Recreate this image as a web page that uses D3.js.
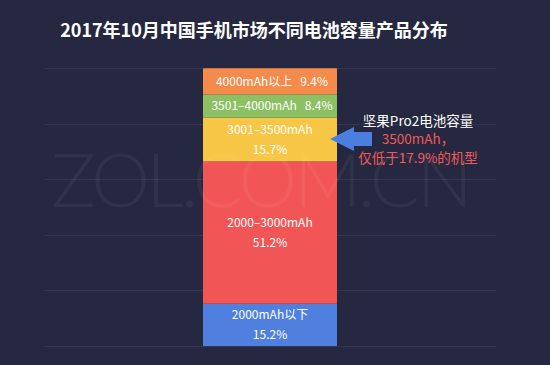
<!DOCTYPE html>
<html>
<head>
<meta charset="utf-8">
<script src="https://cdn.jsdelivr.net/npm/d3@7"></script>
<style>
  html, body { margin: 0; padding: 0; background: #252840; }
  svg { display: block; font-family: "Noto Sans CJK SC", "Noto Sans", sans-serif; }
</style>
</head>
<body>
<svg id="chart" width="550" height="365"></svg>
<script>
// data, bottom to top
const categories = ["2000mAh以下", "2000–3000mAh", "3001–3500mAh", "3501–4000mAh", "4000mAh以上"];
const shares     = [15.2, 51.2, 15.7, 8.4, 9.4];
const colors     = ["#4f80e0", "#f25555", "#f8c645", "#8dc063", "#f58b4b"];
const noteLines  = ["坚果Pro2电池容量", "3500mAh，", "仅低于17.9%的机型"];
const title      = "2017年10月中国手机市场不同电池容量产品分布";

const W = 550, H = 365;
const svg = d3.select("#chart");

svg.append("rect").attr("width", W).attr("height", H).attr("fill", "#252840");

const x = d3.scaleBand().domain(["2017-10"]).range([203, 337]).padding(0);
const y = d3.scaleLinear().domain([0, 100]).range([346, 68]);

// ── grid ──
svg.append("g").selectAll("line").data(y.ticks(5)).enter().append("line")
  .attr("x1", 44).attr("x2", 496)
  .attr("y1", d => Math.round(y(d)) + 0.5).attr("y2", d => Math.round(y(d)) + 0.5)
  .attr("stroke", "#33364f").attr("stroke-width", 1);

// ── stacked bar ──
let acc = 0;
const segs = shares.map((v, i) => {
  const s = { name: categories[i], value: v, y0: acc, y1: acc + v, color: colors[i] };
  acc += v;
  return s;
});

const bar = svg.append("g");
bar.selectAll("rect").data(segs).enter().append("rect")
  .attr("x", x("2017-10")).attr("width", x.bandwidth())
  .attr("y", d => y(d.y1)).attr("height", d => y(d.y0) - y(d.y1))
  .attr("fill", d => d.color);

const labels = svg.append("g").attr("fill", "#fff").attr("font-size", 12)
  .attr("text-anchor", "middle");
const cx = x("2017-10") + x.bandwidth() / 2;
segs.forEach(d => {
  const mid = (y(d.y0) + y(d.y1)) / 2;
  const h = y(d.y0) - y(d.y1);
  if (h < 32) {
    labels.append("text").attr("x", cx + 2).attr("y", mid).attr("dy", "0.35em")
      .style("white-space", "pre")
      .text(`${d.name}   ${d.value}%`);
  } else {
    labels.append("text").attr("x", cx).attr("y", mid - 10).attr("dy", "0.35em").text(d.name);
    labels.append("text").attr("x", cx).attr("y", mid + 10).attr("dy", "0.35em").text(d.value + "%");
  }
});

// ── arrow + note ──
const ay = 139;
svg.append("path")
  .attr("d", d3.line()([[330, ay], [354, ay - 12], [354, ay - 7], [372, ay - 7],
                        [372, ay + 7], [354, ay + 7], [354, ay + 12]]) + "Z")
  .attr("fill", "#4a7fe0");

const note = svg.append("g").attr("text-anchor", "middle").attr("font-size", 13.5);
note.selectAll("text").data(noteLines).enter().append("text")
  .attr("x", 418).attr("y", (d, i) => 121 + i * 18.5).attr("dy", "0.35em")
  .attr("fill", (d, i) => i === 0 ? "#ffffff" : "#f05a5a")
  .text(d => d);

// ── title ──
svg.append("text").attr("x", 254).attr("y", 31).attr("dy", "0.35em")
  .attr("text-anchor", "middle").attr("fill", "#fff")
  .attr("font-size", 18).attr("font-weight", "bold")
  .text(title);

// ── watermark ──
svg.append("text").attr("x", 262).attr("y", 181).attr("dy", "0.35em")
  .attr("text-anchor", "middle").attr("fill", "#ffffff").attr("fill-opacity", 0.05)
  .attr("font-family", "Lato, 'Open Sans', sans-serif").attr("font-weight", 300)
  .attr("font-size", 74).attr("textLength", 421)
  .text("ZOL.COM.CN");
</script>
</body>
</html>
